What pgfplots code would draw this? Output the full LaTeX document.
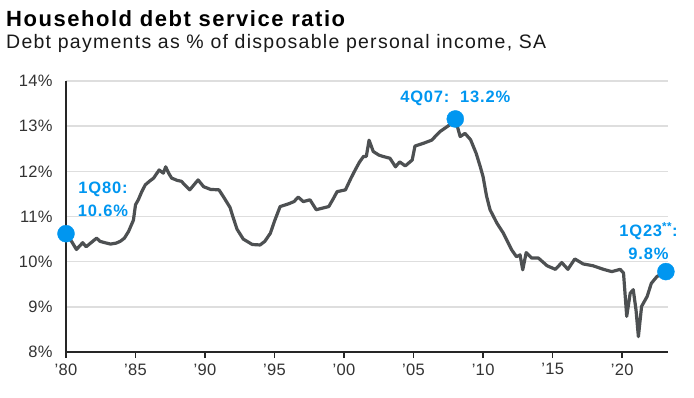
\documentclass[border=0pt]{standalone}
\usepackage{pgfplots}
\pgfplotsset{compat=1.18}
\usepackage{fontspec}
\setmainfont{Liberation Sans}[LetterSpace=5]
\definecolor{jpblue}{RGB}{0,150,240}
\definecolor{linegray}{RGB}{77,80,82}
\definecolor{gridgray}{RGB}{222,222,222}
\begin{document}
\begin{tikzpicture}[x=1pt,y=1pt]
\useasboundingbox (0,0) rectangle (694,-397);
\node[anchor=base west,inner sep=0,font=\fontsize{22}{26}\selectfont\bfseries\addfontfeatures{LetterSpace=7}] at (6,-26) {Household debt service ratio};
\node[anchor=base west,inner sep=0,font=\fontsize{19.5}{23}\selectfont\addfontfeatures{LetterSpace=6.5},text=black!90] at (6,-48) {Debt payments as \% of disposable personal income, SA};
\begin{axis}[
  at={(66pt,-352pt)}, anchor=south west,
  scale only axis, width=602pt, height=271pt,
  xmin=1980, xmax=2023.3, ymin=8, ymax=14,
  xtick={1980,1985,...,2020},
  xticklabels={'80,'85,'90,'95,'00,'05,'10,'15,'20},
  ytick={8,9,...,14},
  yticklabels={8\%,9\%,10\%,11\%,12\%,13\%,14\%},
  ymajorgrids, grid style={gridgray,line width=1.6pt},
  axis x line*=bottom, axis y line*=left,
  axis line style={black!85,line width=1.6pt},
  x axis line style={-}, y axis line style={-},
  xtick style={black!85,line width=1.4pt}, ytick style={draw=none},
  tick align=outside, major tick length=6pt,
  ticklabel style={font=\fontsize{16.5}{18}\selectfont\addfontfeatures{LetterSpace=2},color=black!80},
  xticklabel style={yshift=-2pt},
  yticklabel style={xshift=-4pt},
  /pgf/number format/assume math mode=true,
  clip=false,
]
\addplot[linegray,line width=3.2pt,line join=round] coordinates {
(1980.0,10.62)(1980.4,10.45)(1980.75,10.27)(1981.2,10.42)(1981.45,10.33)(1981.8,10.42)
(1982.2,10.52)(1982.45,10.45)(1982.8,10.42)(1983.2,10.39)(1983.6,10.41)(1983.9,10.45)
(1984.2,10.52)(1984.5,10.67)(1984.85,10.92)(1985.0,11.26)(1985.2,11.37)(1985.45,11.55)
(1985.7,11.70)(1986.0,11.78)(1986.3,11.85)(1986.7,12.03)(1987.0,11.96)(1987.17,12.10)
(1987.4,11.95)(1987.6,11.85)(1988.0,11.80)(1988.3,11.78)(1988.6,11.68)(1988.9,11.59)
(1989.2,11.70)(1989.5,11.81)(1989.9,11.66)(1990.4,11.60)(1991.0,11.59)(1991.3,11.45)
(1991.8,11.2)(1992.0,11.0)(1992.3,10.72)(1992.75,10.50)(1993.4,10.38)(1993.96,10.37)
(1994.3,10.45)(1994.7,10.63)(1995.0,10.90)(1995.4,11.22)(1996.0,11.28)(1996.4,11.33)
(1996.7,11.43)(1997.07,11.33)(1997.55,11.37)(1998.0,11.15)(1998.5,11.19)(1998.9,11.22)
(1999.2,11.38)(1999.5,11.55)(2000.1,11.59)(2000.5,11.85)(2000.8,12.03)(2001.1,12.2)
(2001.4,12.33)(2001.6,12.33)(2001.8,12.69)(2002.1,12.44)(2002.5,12.36)(2002.8,12.33)
(2003.3,12.29)(2003.7,12.10)(2004.0,12.21)(2004.4,12.12)(2004.9,12.25)(2005.1,12.56)
(2005.7,12.62)(2006.3,12.69)(2006.9,12.88)(2007.6,13.03)(2008.0,13.16)(2008.35,12.77)
(2008.7,12.84)(2009.1,12.70)(2009.5,12.40)(2009.8,12.10)(2010.0,11.88)(2010.25,11.45)
(2010.5,11.15)(2011.0,10.85)(2011.46,10.63)(2012.06,10.26)(2012.4,10.11)(2012.66,10.15)
(2012.85,9.82)(2013.1,10.20)(2013.5,10.08)(2013.98,10.08)(2014.6,9.91)(2015.2,9.83)
(2015.66,9.98)(2016.1,9.83)(2016.6,10.06)(2017.2,9.95)(2017.9,9.91)(2018.66,9.83)
(2019.26,9.78)(2019.86,9.83)(2020.1,9.75)(2020.33,8.79)(2020.58,9.30)(2020.8,9.38)
(2021.0,8.93)(2021.17,8.34)(2021.4,9.01)(2021.8,9.23)(2022.1,9.52)(2022.5,9.67)
(2023.15,9.78)
};
\addplot[only marks,mark=*,mark size=8.5pt,jpblue,mark options={draw=jpblue,fill=jpblue}] coordinates {
(1980.0,10.62)(2008.0,13.16)(2023.15,9.78)};
\node[jpblue,font=\fontsize{16.5}{23}\selectfont\bfseries,align=center,anchor=center] at (axis cs:1982.66,11.37) {1Q80:\\10.6\%};
\node[jpblue,font=\fontsize{16.5}{23}\selectfont\bfseries,anchor=center] at (axis cs:2008.0,13.62) {4Q07:~~13.2\%};
\node[jpblue,font=\fontsize{16.5}{23}\selectfont\bfseries,align=center,anchor=center] at (axis cs:2021.9,10.46) {1Q23\textsuperscript{**}:\\9.8\%};
\end{axis}
\end{tikzpicture}
\end{document}
